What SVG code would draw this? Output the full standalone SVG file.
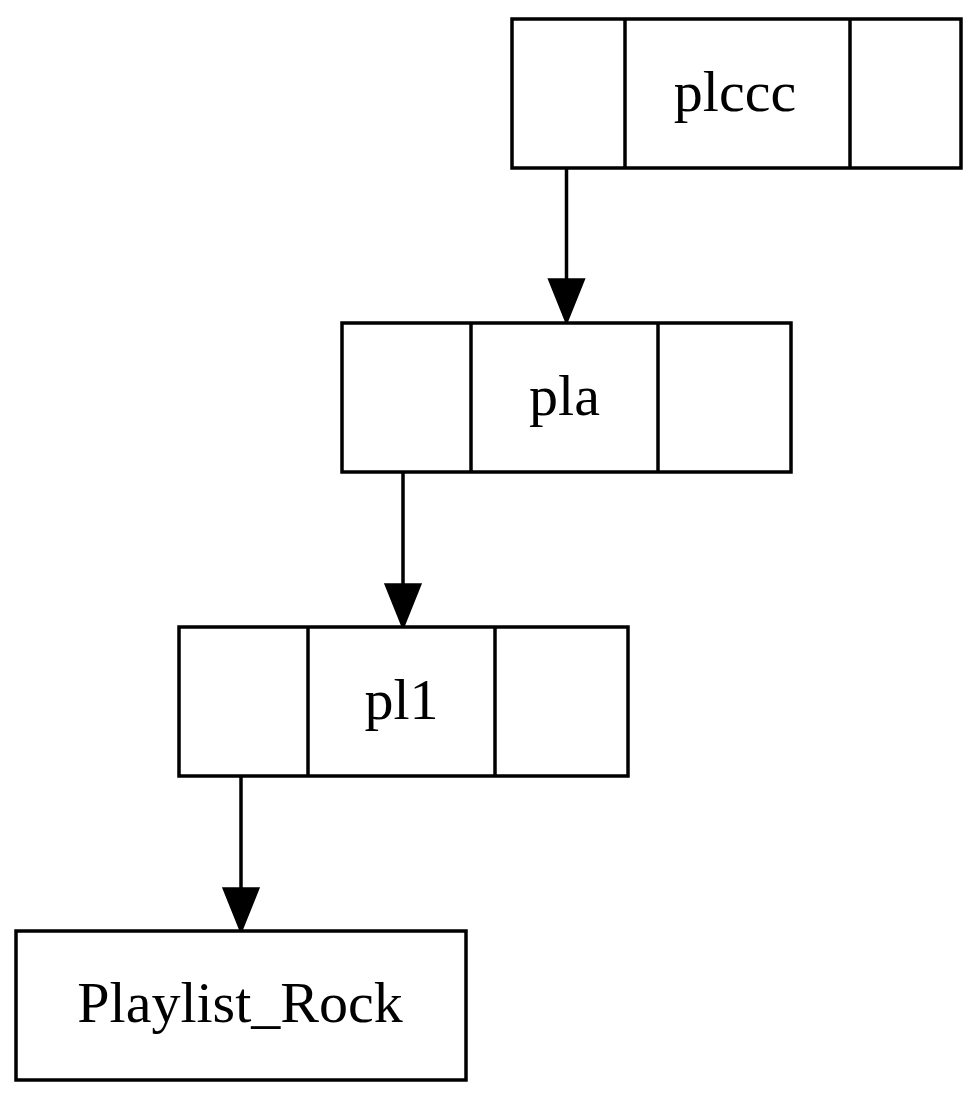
<svg xmlns="http://www.w3.org/2000/svg" width="979" height="1100" viewBox="0 0 979 1100">
<defs>
<style>
.box{fill:#fff;stroke:#000;stroke-width:3.5}
.div{stroke:#000;stroke-width:3.5}
.lbl{font-family:"Liberation Serif","Times New Roman",serif;font-size:58px;text-anchor:middle;fill:#000}
.edge{stroke:#000;stroke-width:3.5;fill:none}
.head{fill:#000;stroke:#000;stroke-width:3.5;stroke-linejoin:miter}
</style>
</defs>
<rect x="0" y="0" width="979" height="1100" fill="#fff"/>
<g id="connectors">
<line class="edge" x1="566.5" y1="168" x2="566.5" y2="282"/>
<polygon class="head" points="550,280 583,280 566.5,321"/>
<line class="edge" x1="403" y1="472" x2="403" y2="587"/>
<polygon class="head" points="386.5,585 419.5,585 403,626"/>
<line class="edge" x1="241" y1="777" x2="241" y2="891"/>
<polygon class="head" points="224.5,889 257.5,889 241,930"/>
</g>
<g id="plccc">
<rect class="box" x="512" y="19" width="449" height="149"/>
<line class="div" x1="625" y1="19" x2="625" y2="168"/>
<line class="div" x1="850" y1="19" x2="850" y2="168"/>
<text class="lbl" x="735" y="111">plccc</text>
</g>
<g id="pla">
<rect class="box" x="342" y="323" width="449" height="149"/>
<line class="div" x1="471" y1="323" x2="471" y2="472"/>
<line class="div" x1="658" y1="323" x2="658" y2="472"/>
<text class="lbl" x="564.5" y="415">pla</text>
</g>
<g id="pl1">
<rect class="box" x="179" y="627" width="449" height="149"/>
<line class="div" x1="308" y1="627" x2="308" y2="776"/>
<line class="div" x1="495" y1="627" x2="495" y2="776"/>
<text class="lbl" x="401.5" y="719">pl1</text>
</g>
<g id="Playlist_Rock">
<rect class="box" x="16" y="931" width="450" height="149"/>
<text class="lbl" x="240" y="1022">Playlist_Rock</text>
</g>
</svg>
